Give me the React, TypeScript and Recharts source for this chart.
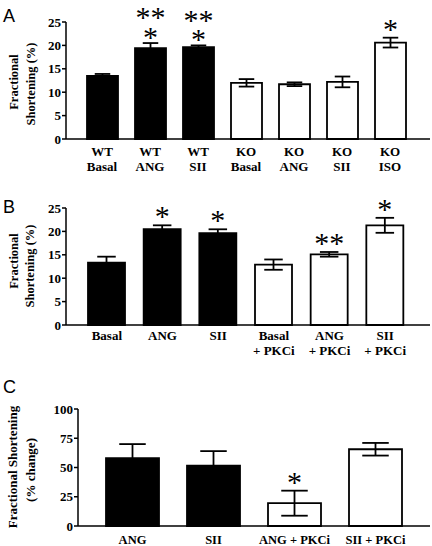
import React from "react";
import { BarChart, Bar, XAxis, YAxis, ErrorBar, Cell, LabelList } from "recharts";

// Panel A
const catsA = ["WT\nBasal", "WT\nANG", "WT\nSII", "KO\nBasal", "KO\nANG", "KO\nSII", "KO\nISO"];
const valsA = [13.5, 19.4, 19.6, 12.0, 11.7, 12.2, 20.6];
const errsA = [0.4, 1.1, 0.4, 0.8, 0.4, 1.15, 1.05];
const filledA = [true, true, true, false, false, false, false];
const starsA = [[], ["**", "*"], ["**", "*"], [], [], [], ["*"]];
const ticksA = [0, 5, 10, 15, 20, 25];

// Panel B
const catsB = ["Basal", "ANG", "SII", "Basal\n+ PKCi", "ANG\n+ PKCi", "SII\n+ PKCi"];
const valsB = [13.3, 20.5, 19.6, 12.9, 15.1, 21.3];
const errsB = [1.3, 0.8, 0.85, 1.1, 0.5, 1.6];
const filledB = [true, true, true, false, false, false];
const starsB = [[], ["*"], ["*"], [], ["**"], ["*"]];
const ticksB = [0, 5, 10, 15, 20, 25];

// Panel C
const catsC = ["ANG", "SII", "ANG + PKCi", "SII + PKCi"];
const valsC = [58, 51.5, 19.5, 65.6];
const errsC = [12, 12.5, 10.7, 5.4];
const filledC = [true, true, false, false];
const starsC = [[], [], ["*"], []];
const ticksC = [0, 25, 50, 75, 100];

const SERIF = "'Liberation Serif', 'Times New Roman', serif";
const SANS = "'Liberation Sans', Arial, sans-serif";

const MultiTick = (props: any) => {
  const { x, y, payload, fontSize, firstDy, lineHeight } = props;
  const lines = String(payload.value).split("\n");
  return (
    <g>
      {lines.map((l: string, i: number) => (
        <text
          key={i}
          x={x}
          y={y + firstDy + i * lineHeight}
          textAnchor="middle"
          dominantBaseline="central"
          fontFamily={SERIF}
          fontWeight="bold"
          fontSize={fontSize}
          fill="#000"
        >
          {l}
        </text>
      ))}
    </g>
  );
};

// asterisks above the error bar cap, one text with a tspan per row
const makeStarLabel = (stars: string[][], errs: number[]) => (props: any) => {
  const vb = props.viewBox ?? props;
  const x = vb.x ?? props.x;
  const y = vb.y ?? props.y;
  const width = vb.width ?? props.width;
  const height = vb.height ?? props.height;
  const index = props.index;
  const value = Number(props.value);
  const lines = stars[index] || [];
  if (!lines.length) return null;
  const capY = y - (errs[index] * height) / value;
  const cx = x + width / 2;
  const fs = 30;
  const gap = lines.length > 1 ? 10.5 : 13;
  const rowStep = 19.5;
  const firstCenter = capY - gap - (lines.length - 1) * rowStep;
  return (
    <text textAnchor="middle" fontFamily={SERIF} fontSize={fs} fill="#000">
      {lines.map((l, i) => (
        <tspan key={i} x={cx} y={firstCenter + i * rowStep + fs * 0.47}>
          {l}
        </tspan>
      ))}
    </text>
  );
};

type PanelProps = {
  cats: string[];
  vals: number[];
  errs: number[];
  filled: boolean[];
  stars: string[][];
  ticks: number[];
  top: number;
  height: number;
  marginTop: number;
  yWidth: number;
  padding: { left: number; right: number };
  barSize: number;
  xFont: number;
  firstDy: number;
  lineHeight: number;
  xHeight: number;
};

function Panel(p: PanelProps) {
  const data = p.cats.map((name, i) => ({ name, value: p.vals[i], err: p.errs[i] }));
  const domainMax = p.ticks[p.ticks.length - 1];
  return (
    <div style={{ position: "absolute", left: 0, top: p.top }}>
      <BarChart
        width={432}
        height={p.height}
        data={data}
        margin={{ top: p.marginTop, right: 2, left: 0, bottom: 0 }}
      >
        <XAxis
          dataKey="name"
          padding={p.padding}
          height={p.xHeight}
          tickLine={false}
          tickSize={0}
          tickMargin={0}
          interval={0}
          axisLine={{ stroke: "#000", strokeWidth: 1.5 }}
          tick={(tp: any) => (
            <MultiTick {...tp} fontSize={p.xFont} firstDy={p.firstDy} lineHeight={p.lineHeight} />
          )}
        />
        <YAxis
          width={p.yWidth}
          domain={[0, domainMax]}
          ticks={p.ticks}
          interval={0}
          tickSize={4}
          tickMargin={1}
          axisLine={{ stroke: "#000", strokeWidth: 1.5 }}
          tickLine={{ stroke: "#000", strokeWidth: 1.5 }}
          tick={{ fontFamily: SERIF, fontWeight: "bold", fontSize: 13, fill: "#000" }}
        />
        <Bar dataKey="value" barSize={p.barSize} isAnimationActive={false} stroke="#000" strokeWidth={1.8}>
          {data.map((d, i) => (
            <Cell key={d.name} fill={p.filled[i] ? "#000" : "#fff"} />
          ))}
          <ErrorBar dataKey="err" width={p.barSize / 4} stroke="#000" strokeWidth={1.8} isAnimationActive={false} />
          <LabelList dataKey="value" content={makeStarLabel(p.stars, p.errs)} />
        </Bar>
      </BarChart>
    </div>
  );
}

const YLabel = ({ x, y, text, size }: { x: number; y: number; text: string; size: number }) => (
  <text
    transform={`translate(${x},${y}) rotate(-90)`}
    textAnchor="middle"
    dominantBaseline="central"
    fontFamily={SERIF}
    fontWeight="bold"
    fontSize={size}
    fill="#000"
  >
    {text}
  </text>
);

export default function App() {
  return (
    <div style={{ position: "absolute", left: 0, top: 0, width: 432, height: 546, background: "#fff", overflow: "hidden" }}>
      <Panel
        cats={catsA}
        vals={valsA}
        errs={errsA}
        filled={filledA}
        stars={starsA}
        ticks={ticksA}
        top={0}
        height={180}
        marginTop={22}
        yWidth={66}
        padding={{ left: 12, right: 16 }}
        barSize={31}
        xFont={13}
        firstDy={12}
        lineHeight={15}
        xHeight={41}
      />
      <Panel
        cats={catsB}
        vals={valsB}
        errs={errsB}
        filled={filledB}
        stars={starsB}
        ticks={ticksB}
        top={185}
        height={180}
        marginTop={23}
        yWidth={66}
        padding={{ left: 13, right: 17 }}
        barSize={37}
        xFont={13}
        firstDy={10}
        lineHeight={15.5}
        xHeight={40}
      />
      <Panel
        cats={catsC}
        vals={valsC}
        errs={errsC}
        filled={filledC}
        stars={starsC}
        ticks={ticksC}
        top={360}
        height={186}
        marginTop={49}
        yWidth={78}
        padding={{ left: 14, right: 14 }}
        barSize={53}
        xFont={12.5}
        firstDy={14}
        lineHeight={15}
        xHeight={20}
      />
      <svg
        width={432}
        height={546}
        style={{ position: "absolute", left: 0, top: 0, pointerEvents: "none" }}
      >
        <text x={3} y={21.5} fontFamily={SANS} fontSize={18} fill="#000">A</text>
        <text x={3} y={213} fontFamily={SANS} fontSize={18} fill="#000">B</text>
        <text x={3} y={393} fontFamily={SANS} fontSize={18} fill="#000">C</text>
        <YLabel x={14} y={82} text="Fractional" size={12.5} />
        <YLabel x={31} y={84} text="Shortening (%)" size={12.5} />
        <YLabel x={14} y={261} text="Fractional" size={12.5} />
        <YLabel x={30} y={266} text="Shortening (%)" size={12.5} />
        <YLabel x={12} y={467} text="Fractional Shortening" size={13} />
        <YLabel x={30} y={470} text="(% change)" size={13} />
      </svg>
    </div>
  );
}
